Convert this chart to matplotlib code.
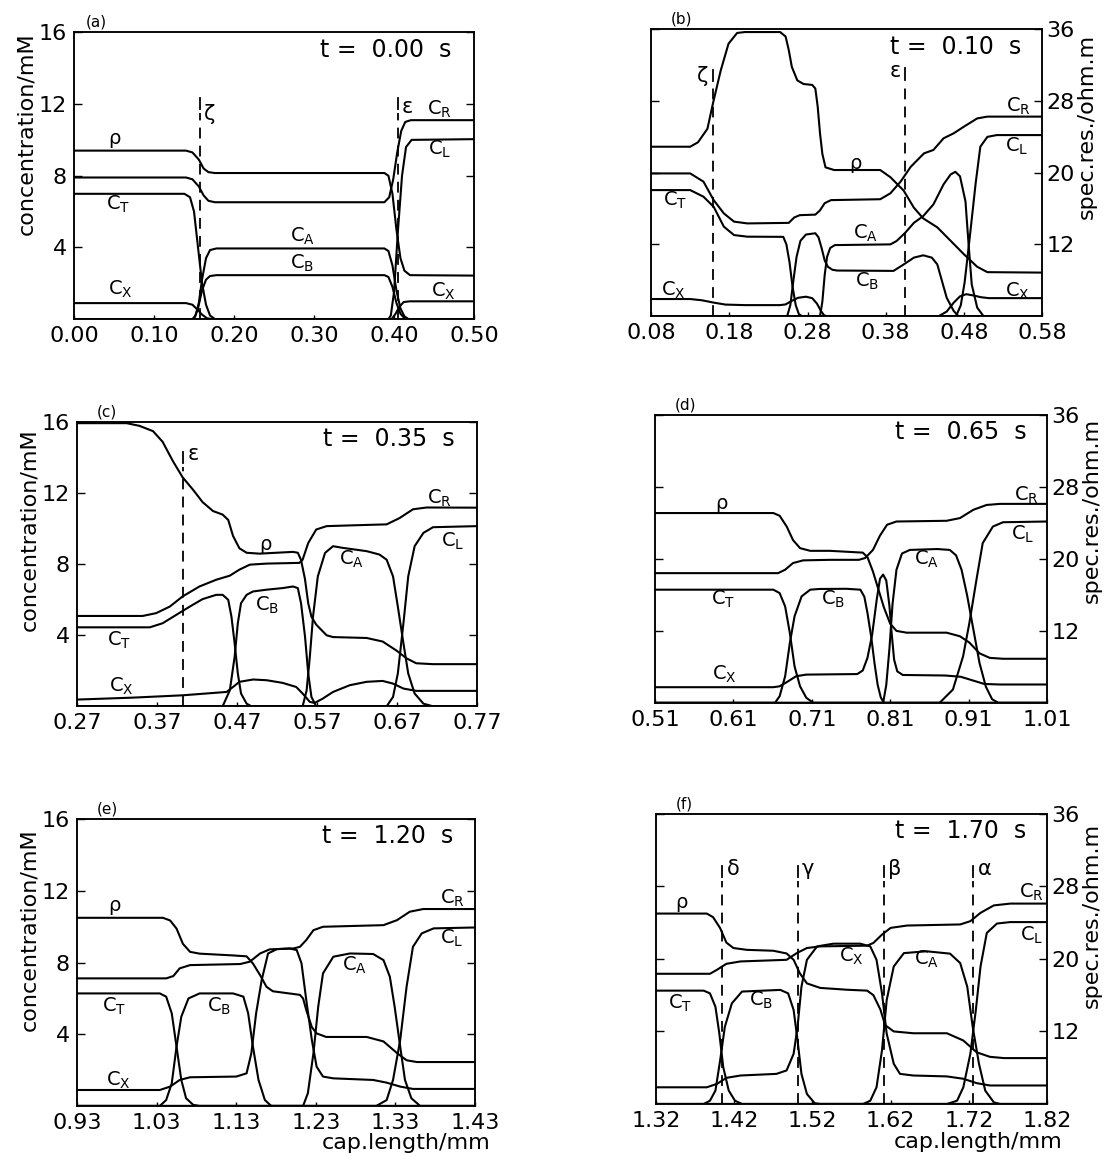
import matplotlib.pyplot as plt

plt.rcParams['font.family'] = ['DejaVu Sans']
plt.rcParams['mathtext.fontset'] = 'dejavusans'

# x tick labels of each panel (cap. length / mm)
a_xticks = [0.00, 0.10, 0.20, 0.30, 0.40, 0.50]
b_xticks = [0.08, 0.18, 0.28, 0.38, 0.48, 0.58]
c_xticks = [0.27, 0.37, 0.47, 0.57, 0.67, 0.77]
d_xticks = [0.51, 0.61, 0.71, 0.81, 0.91, 1.01]
e_xticks = [0.93, 1.03, 1.13, 1.23, 1.33, 1.43]
f_xticks = [1.32, 1.42, 1.52, 1.62, 1.72, 1.82]
times = ['0.00', '0.10', '0.35', '0.65', '1.20', '1.70']

conc_ticks = [4, 8, 12, 16]      # mM
res_ticks = [12, 20, 28, 36]     # ohm.m

# ---- (a) t = 0.00 s ; concentrations in mM, rho in ohm.m ----
a_rho = [(0.0, 22.8), (0.140, 22.8), (0.148, 22.6), (0.156, 21.8), (0.162, 20.8), (0.168, 20.4),
         (0.176, 20.3), (0.388, 20.3), (0.393, 20.0), (0.398, 18.0), (0.403, 14.0), (0.408, 10.8),
         (0.413, 9.4), (0.420, 8.9), (0.50, 8.85)]
a_cr = [(0.0, 7.9), (0.140, 7.9), (0.148, 7.8), (0.156, 7.4), (0.162, 6.9), (0.168, 6.6), (0.176, 6.52),
        (0.388, 6.52), (0.394, 6.8), (0.399, 7.8), (0.404, 9.3), (0.409, 10.5), (0.414, 11.0),
        (0.421, 11.1), (0.50, 11.1)]
a_ct = [(0.0, 6.99), (0.138, 6.99), (0.145, 6.8), (0.150, 6.0), (0.155, 4.0), (0.160, 2.0), (0.165, 0.8),
        (0.170, 0.2), (0.176, 0.0), (0.50, 0.0)]
a_cx = [(0.0, 0.89), (0.140, 0.89), (0.148, 0.8), (0.155, 0.5), (0.160, 0.25), (0.166, 0.05), (0.172, 0.0),
        (0.397, 0.0), (0.402, 0.3), (0.407, 0.7), (0.412, 0.95), (0.420, 0.99), (0.50, 0.99)]
a_ca = [(0.0, 0.0), (0.148, 0.0), (0.152, 0.2), (0.156, 0.9), (0.160, 2.2), (0.165, 3.4), (0.170, 3.85),
        (0.178, 3.94), (0.388, 3.94), (0.393, 3.8), (0.398, 3.0), (0.403, 1.6), (0.408, 0.6),
        (0.413, 0.15), (0.418, 0.0), (0.50, 0.0)]
a_cb = [(0.0, 0.0), (0.150, 0.0), (0.155, 0.6), (0.160, 1.6), (0.165, 2.2), (0.170, 2.4), (0.178, 2.45),
        (0.388, 2.45), (0.393, 2.35), (0.398, 1.8), (0.403, 0.9), (0.408, 0.3), (0.413, 0.05),
        (0.418, 0.0), (0.50, 0.0)]
a_cl = [(0.0, 0.0), (0.393, 0.0), (0.396, 0.2), (0.400, 1.5), (0.405, 5.0), (0.410, 8.0), (0.415, 9.6),
        (0.422, 10.0), (0.50, 10.04)]

# ---- (b) t = 0.10 s ----
b_rho = [(0.08, 22.9), (0.130, 22.9), (0.140, 23.4), (0.152, 24.9), (0.159, 27.7), (0.169, 31.4),
         (0.179, 34.4), (0.190, 35.6), (0.200, 35.7), (0.245, 35.7), (0.252, 35.2), (0.256, 33.7),
         (0.260, 31.8), (0.267, 30.3), (0.275, 29.9), (0.286, 29.8), (0.290, 29.4), (0.293, 27.4),
         (0.296, 24.4), (0.299, 22.1), (0.303, 20.6), (0.314, 20.3), (0.373, 20.3), (0.386, 19.5),
         (0.403, 18.0), (0.416, 16.1), (0.428, 14.9), (0.446, 13.9), (0.463, 12.4), (0.480, 10.9),
         (0.497, 9.5), (0.510, 8.9), (0.58, 8.85)]
b_cr = [(0.08, 7.96), (0.130, 7.96), (0.147, 7.5), (0.160, 6.47), (0.173, 5.73), (0.186, 5.27),
        (0.203, 5.17), (0.256, 5.2), (0.263, 5.5), (0.270, 5.63), (0.290, 5.66), (0.296, 5.9),
        (0.302, 6.3), (0.310, 6.47), (0.373, 6.52), (0.386, 6.85), (0.399, 7.5), (0.412, 8.33),
        (0.429, 9.08), (0.441, 9.27), (0.454, 9.92), (0.467, 10.2), (0.480, 10.57), (0.497, 11.03),
        (0.510, 11.13), (0.58, 11.13)]
b_ct = [(0.08, 7.03), (0.130, 7.03), (0.147, 6.66), (0.160, 6.1), (0.173, 4.99), (0.186, 4.52),
        (0.203, 4.43), (0.249, 4.42), (0.253, 4.0), (0.257, 3.0), (0.261, 1.6), (0.265, 0.6),
        (0.269, 0.1), (0.273, 0.0), (0.58, 0.0)]
b_cx = [(0.08, 0.95), (0.130, 0.95), (0.145, 0.88), (0.160, 0.75), (0.175, 0.64), (0.200, 0.61),
        (0.245, 0.61), (0.252, 0.65), (0.260, 0.85), (0.268, 1.02), (0.278, 1.08), (0.286, 1.0),
        (0.292, 0.7), (0.297, 0.3), (0.301, 0.05), (0.304, 0.0), (0.448, 0.0), (0.458, 0.25),
        (0.467, 0.75), (0.475, 1.1), (0.483, 1.22), (0.492, 1.15), (0.502, 1.05), (0.512, 1.0),
        (0.58, 1.0)]
b_cb = [(0.08, 0.0), (0.254, 0.0), (0.258, 0.6), (0.262, 2.0), (0.266, 3.3), (0.271, 4.2), (0.278, 4.55),
        (0.290, 4.62), (0.294, 4.4), (0.298, 3.8), (0.302, 3.1), (0.306, 2.75), (0.312, 2.58),
        (0.318, 2.54), (0.390, 2.52), (0.403, 2.88), (0.416, 3.26), (0.428, 3.39), (0.439, 3.26),
        (0.446, 2.88), (0.452, 1.95), (0.458, 1.02), (0.467, 0.28), (0.473, 0.0), (0.58, 0.0)]
b_ca = [(0.08, 0.0), (0.296, 0.0), (0.299, 0.8), (0.302, 2.3), (0.305, 3.3), (0.309, 3.8), (0.315, 3.96),
        (0.386, 4.0), (0.394, 4.19), (0.405, 4.65), (0.416, 5.2), (0.428, 5.58), (0.441, 6.23),
        (0.454, 7.35), (0.463, 7.9), (0.469, 8.05), (0.475, 7.8), (0.482, 6.4), (0.486, 4.0),
        (0.490, 1.77), (0.497, 0.47), (0.505, 0.0), (0.58, 0.0)]
b_cl = [(0.08, 0.0), (0.470, 0.0), (0.476, 0.6), (0.481, 1.9), (0.488, 4.6), (0.495, 7.4), (0.501, 9.45),
        (0.510, 10.0), (0.522, 10.1), (0.58, 10.1)]

# ---- (c) t = 0.35 s ----
c_rho = [(0.27, 35.9), (0.332, 35.9), (0.348, 35.6), (0.365, 35.0), (0.377, 33.8), (0.390, 31.6),
         (0.402, 29.8), (0.415, 28.4), (0.427, 27.0), (0.440, 26.0), (0.452, 25.6), (0.459, 25.0),
         (0.465, 23.2), (0.473, 21.8), (0.482, 21.3), (0.498, 21.2), (0.519, 21.3), (0.540, 21.4),
         (0.546, 21.3), (0.550, 20.5), (0.555, 18.3), (0.559, 15.6), (0.563, 14.1), (0.569, 13.2),
         (0.582, 12.0), (0.590, 11.8), (0.632, 11.7), (0.652, 11.3), (0.669, 10.3), (0.682, 9.4),
         (0.694, 8.85), (0.715, 8.75), (0.77, 8.75)]
c_cr = [(0.27, 5.09), (0.352, 5.09), (0.369, 5.25), (0.386, 5.62), (0.402, 6.19), (0.423, 6.75),
        (0.444, 7.13), (0.461, 7.36), (0.473, 7.7), (0.486, 7.98), (0.507, 8.04), (0.548, 8.08),
        (0.552, 8.26), (0.559, 9.2), (0.569, 9.96), (0.582, 10.15), (0.611, 10.19), (0.657, 10.25),
        (0.673, 10.6), (0.690, 11.1), (0.707, 11.2), (0.77, 11.19)]
c_ct = [(0.27, 4.45), (0.361, 4.45), (0.377, 4.68), (0.394, 5.15), (0.411, 5.62), (0.427, 6.04),
        (0.444, 6.28), (0.452, 6.28), (0.459, 6.0), (0.463, 5.06), (0.467, 3.55), (0.471, 1.85),
        (0.475, 0.72), (0.482, 0.15), (0.488, 0.0), (0.77, 0.0)]
c_cb = [(0.27, 0.0), (0.452, 0.0), (0.461, 0.9), (0.467, 2.79), (0.471, 4.68), (0.475, 5.81), (0.482, 6.28),
        (0.490, 6.47), (0.507, 6.57), (0.527, 6.66), (0.540, 6.75), (0.546, 6.66), (0.550, 5.81),
        (0.555, 3.92), (0.559, 1.85), (0.563, 0.53), (0.569, 0.0), (0.77, 0.0)]
c_ca = [(0.27, 0.0), (0.552, 0.0), (0.557, 0.9), (0.561, 2.79), (0.565, 5.06), (0.571, 7.32), (0.580, 8.64),
        (0.590, 9.02), (0.603, 8.92), (0.632, 8.74), (0.648, 8.55), (0.657, 8.26), (0.665, 7.32),
        (0.671, 5.62), (0.678, 3.55), (0.684, 1.85), (0.692, 0.72), (0.703, 0.15), (0.715, 0.0),
        (0.77, 0.0)]
c_cl = [(0.27, 0.0), (0.657, 0.0), (0.665, 0.53), (0.671, 1.85), (0.678, 4.68), (0.684, 7.32), (0.692, 9.02),
        (0.703, 9.77), (0.715, 10.09), (0.77, 10.15)]
c_cx = [(0.27, 0.38), (0.340, 0.49), (0.402, 0.62), (0.457, 0.81), (0.465, 1.09), (0.473, 1.38),
        (0.490, 1.51), (0.507, 1.47), (0.527, 1.32), (0.544, 1.09), (0.552, 0.72), (0.561, 0.25),
        (0.567, 0.19), (0.577, 0.43), (0.590, 0.81), (0.611, 1.19), (0.632, 1.38), (0.652, 1.43),
        (0.665, 1.28), (0.678, 1.0), (0.694, 0.87), (0.77, 0.87)]

# ---- (d) t = 0.65 s ----
d_rho = [(0.51, 25.1), (0.661, 25.1), (0.669, 24.8), (0.678, 23.6), (0.686, 22.1), (0.695, 21.2),
         (0.708, 20.9), (0.733, 20.9), (0.754, 20.8), (0.775, 20.7), (0.781, 20.2), (0.788, 18.6),
         (0.795, 16.6), (0.802, 14.6), (0.810, 12.8), (0.818, 12.0), (0.831, 11.8), (0.882, 11.8),
         (0.899, 11.4), (0.911, 10.7), (0.924, 9.5), (0.937, 9.0), (0.954, 8.9), (1.01, 8.9)]
d_cr = [(0.51, 7.21), (0.667, 7.21), (0.676, 7.4), (0.686, 7.77), (0.699, 7.92), (0.733, 7.95),
        (0.770, 7.95), (0.778, 8.05), (0.788, 8.5), (0.797, 9.3), (0.806, 9.9), (0.818, 10.08),
        (0.882, 10.12), (0.899, 10.27), (0.916, 10.73), (0.933, 11.0), (0.950, 11.06), (1.01, 11.06)]
d_ct = [(0.51, 6.29), (0.661, 6.29), (0.669, 6.1), (0.676, 5.36), (0.682, 3.88), (0.688, 2.03),
        (0.695, 0.92), (0.703, 0.28), (0.712, 0.0), (1.01, 0.0)]
d_cb = [(0.51, 0.0), (0.663, 0.0), (0.669, 0.37), (0.676, 1.48), (0.682, 3.33), (0.688, 4.81),
        (0.697, 5.92), (0.708, 6.29), (0.720, 6.33), (0.754, 6.34), (0.772, 6.29), (0.777, 5.9),
        (0.781, 5.0), (0.786, 3.6), (0.790, 2.2), (0.794, 1.0), (0.798, 0.3), (0.802, 0.0), (1.01, 0.0)]
d_cx = [(0.51, 0.87), (0.661, 0.87), (0.669, 0.92), (0.678, 1.15), (0.690, 1.48), (0.703, 1.57),
        (0.768, 1.6), (0.775, 1.8), (0.781, 2.5), (0.787, 3.8), (0.793, 5.8), (0.797, 6.9),
        (0.801, 7.13), (0.805, 6.8), (0.809, 5.4), (0.812, 3.8), (0.815, 2.4), (0.819, 1.75),
        (0.826, 1.55), (0.880, 1.52), (0.900, 1.45), (0.915, 1.25), (0.930, 1.05), (0.950, 1.02),
        (1.01, 1.02)]
d_ca = [(0.51, 0.0), (0.801, 0.0), (0.805, 1.0), (0.809, 3.0), (0.813, 5.5), (0.818, 7.4), (0.825, 8.3),
        (0.835, 8.5), (0.870, 8.55), (0.886, 8.5), (0.894, 8.2), (0.901, 7.4), (0.908, 6.0),
        (0.916, 4.1), (0.924, 2.2), (0.932, 0.9), (0.940, 0.2), (0.948, 0.0), (1.01, 0.0)]
d_cl = [(0.51, 0.0), (0.873, 0.0), (0.890, 0.74), (0.903, 2.59), (0.911, 4.44), (0.920, 6.84),
        (0.928, 8.88), (0.941, 9.8), (0.954, 10.04), (1.01, 10.08)]

# ---- (e) t = 1.20 s ----
e_rho = [(0.93, 25.0), (1.038, 25.0), (1.047, 24.7), (1.055, 23.8), (1.063, 22.1), (1.072, 21.2),
         (1.084, 21.0), (1.126, 20.8), (1.143, 20.7), (1.151, 19.9), (1.160, 18.6), (1.168, 17.3),
         (1.176, 16.8), (1.193, 16.6), (1.210, 16.4), (1.214, 16.0), (1.218, 14.7), (1.225, 12.8),
         (1.231, 12.1), (1.243, 11.7), (1.294, 11.7), (1.315, 11.2), (1.332, 9.9), (1.344, 9.1),
         (1.357, 8.9), (1.43, 8.9)]
e_cr = [(0.93, 7.12), (1.042, 7.12), (1.051, 7.25), (1.059, 7.68), (1.072, 7.86), (1.135, 7.92),
        (1.147, 8.05), (1.160, 8.51), (1.172, 8.74), (1.202, 8.79), (1.210, 8.88), (1.218, 9.26),
        (1.227, 9.81), (1.239, 10.0), (1.315, 10.09), (1.332, 10.37), (1.348, 10.84), (1.365, 10.99),
        (1.43, 10.99)]
e_ct = [(0.93, 6.28), (1.034, 6.28), (1.042, 6.1), (1.049, 5.17), (1.055, 3.31), (1.061, 1.45),
        (1.067, 0.43), (1.076, 0.06), (1.084, 0.0), (1.43, 0.0)]
e_cb = [(0.93, 0.0), (1.034, 0.0), (1.042, 0.33), (1.049, 1.26), (1.055, 3.31), (1.061, 4.98),
        (1.070, 6.0), (1.084, 6.28), (1.126, 6.28), (1.139, 6.1), (1.145, 5.17), (1.151, 3.31),
        (1.158, 1.45), (1.166, 0.33), (1.174, 0.0), (1.43, 0.0)]
e_cx = [(0.93, 0.89), (1.034, 0.89), (1.047, 1.08), (1.059, 1.45), (1.072, 1.6), (1.130, 1.64),
        (1.143, 1.82), (1.149, 2.94), (1.155, 5.17), (1.162, 7.03), (1.170, 8.51), (1.181, 8.75),
        (1.197, 8.79), (1.206, 8.7), (1.212, 7.96), (1.218, 5.91), (1.225, 3.68), (1.231, 2.19),
        (1.239, 1.64), (1.252, 1.54), (1.302, 1.45), (1.319, 1.3), (1.336, 1.08), (1.352, 0.95),
        (1.43, 0.95)]
e_ca = [(0.93, 0.0), (1.214, 0.0), (1.220, 0.71), (1.227, 2.94), (1.233, 5.54), (1.239, 7.4),
        (1.252, 8.33), (1.273, 8.51), (1.302, 8.48), (1.315, 8.14), (1.323, 7.21), (1.329, 5.54),
        (1.336, 3.31), (1.342, 1.45), (1.350, 0.43), (1.361, 0.0), (1.43, 0.0)]
e_cl = [(0.93, 0.0), (1.306, 0.0), (1.319, 0.33), (1.327, 1.45), (1.336, 3.68), (1.344, 6.65),
        (1.352, 8.88), (1.363, 9.63), (1.378, 9.91), (1.43, 9.96)]

# ---- (f) t = 1.70 s ----
f_rho = [(1.32, 25.0), (1.385, 25.0), (1.393, 24.6), (1.402, 23.4), (1.410, 21.8), (1.419, 21.2),
         (1.436, 21.0), (1.470, 20.9), (1.487, 20.6), (1.496, 19.9), (1.504, 18.4), (1.513, 17.3),
         (1.530, 16.8), (1.564, 16.6), (1.590, 16.5), (1.598, 16.0), (1.607, 14.4), (1.613, 12.7),
         (1.624, 12.0), (1.649, 11.8), (1.692, 11.8), (1.713, 11.0), (1.730, 9.7), (1.747, 9.2),
         (1.765, 9.06), (1.82, 9.06)]
f_cr = [(1.32, 7.18), (1.389, 7.18), (1.398, 7.4), (1.410, 7.73), (1.428, 7.86), (1.487, 7.95),
        (1.500, 8.32), (1.513, 8.6), (1.530, 8.69), (1.590, 8.73), (1.598, 8.88), (1.609, 9.34),
        (1.620, 9.71), (1.641, 9.84), (1.709, 9.9), (1.722, 10.08), (1.735, 10.54), (1.752, 10.95),
        (1.773, 11.05), (1.82, 11.05)]
f_ct = [(1.32, 6.25), (1.381, 6.25), (1.389, 6.1), (1.396, 5.36), (1.401, 3.88), (1.406, 2.03),
        (1.413, 0.74), (1.421, 0.18), (1.430, 0.0), (1.82, 0.0)]
f_cb = [(1.32, 0.0), (1.381, 0.0), (1.389, 0.18), (1.396, 0.74), (1.402, 2.4), (1.408, 4.25),
        (1.417, 5.55), (1.430, 6.2), (1.479, 6.29), (1.489, 6.1), (1.496, 5.18), (1.501, 3.51),
        (1.506, 1.66), (1.513, 0.55), (1.523, 0.04), (1.530, 0.0), (1.82, 0.0)]
f_cx = [(1.32, 0.92), (1.385, 0.92), (1.398, 1.11), (1.410, 1.44), (1.428, 1.57), (1.474, 1.66),
        (1.487, 1.85), (1.496, 2.77), (1.501, 4.25), (1.506, 6.47), (1.513, 7.95), (1.526, 8.69),
        (1.547, 8.84), (1.581, 8.84), (1.594, 8.69), (1.602, 7.95), (1.609, 6.1), (1.615, 3.88),
        (1.624, 2.22), (1.632, 1.66), (1.649, 1.57), (1.692, 1.52), (1.713, 1.39), (1.730, 1.15),
        (1.747, 1.02), (1.82, 1.02)]
f_ca = [(1.32, 0.0), (1.585, 0.0), (1.594, 0.18), (1.602, 0.92), (1.609, 2.96), (1.615, 5.73),
        (1.624, 7.58), (1.637, 8.32), (1.666, 8.42), (1.696, 8.29), (1.709, 7.77), (1.718, 6.47),
        (1.725, 4.25), (1.733, 2.22), (1.741, 0.74), (1.752, 0.09), (1.760, 0.0), (1.82, 0.0)]
f_cl = [(1.32, 0.0), (1.692, 0.0), (1.705, 0.18), (1.713, 0.92), (1.722, 2.77), (1.729, 5.18),
        (1.735, 7.58), (1.743, 9.43), (1.756, 9.95), (1.773, 10.03), (1.82, 10.03)]

# boundary markers: x, top of dashes, letter, letter height, side of letter
a_marks = [(0.1575, 11.5, 'ζ', 11.45, 'right'), (0.4046, 11.5, 'ε', 11.85, 'right')]
b_marks = [(0.159, 12.9, 'ζ', 13.4, 'left'), (0.405, 13.0, 'ε', 13.7, 'left')]
c_marks = [(0.4025, 13.5, 'ε', 14.2, 'right')]
d_marks = []
e_marks = []
f_marks = [(1.405, 12.3, 'δ', 12.95, 'right'), (1.501, 12.3, 'γ', 12.95, 'right'),
           (1.611, 12.3, 'β', 12.95, 'right'), (1.726, 12.3, 'α', 12.95, 'right')]

CT, CX, CA, CB = 'C$_\\mathrm{T}$', 'C$_\\mathrm{X}$', 'C$_\\mathrm{A}$', 'C$_\\mathrm{B}$'
CR, CL = 'C$_\\mathrm{R}$', 'C$_\\mathrm{L}$'
a_labels = [('ρ', 0.051, 10.1), (CT, 0.055, 6.4), (CX, 0.058, 1.65), (CA, 0.285, 4.6), (CB, 0.285, 3.1),
            (CR, 0.457, 11.7), (CL, 0.457, 9.45), (CX, 0.462, 1.55)]
b_labels = [('ρ', 0.341, 8.5), (CT, 0.111, 6.45), (CX, 0.109, 1.45), (CA, 0.354, 4.6), (CB, 0.356, 1.92),
            (CR, 0.550, 11.68), (CL, 0.548, 9.45), (CX, 0.548, 1.36)]
c_labels = [('ρ', 0.505, 9.1), (CT, 0.323, 3.7), (CX, 0.325, 1.1), (CB, 0.507, 5.7), (CA, 0.613, 8.3),
            (CR, 0.723, 11.7), (CL, 0.740, 9.3)]
d_labels = [('ρ', 0.595, 11.1), (CT, 0.597, 5.73), (CX, 0.599, 1.57), (CB, 0.737, 5.73), (CA, 0.856, 7.95),
            (CR, 0.984, 11.56), (CL, 0.979, 9.34)]
e_labels = [('ρ', 0.977, 11.2), (CT, 0.977, 5.54), (CX, 0.982, 1.45), (CB, 1.109, 5.54), (CA, 1.279, 7.86),
            (CR, 1.401, 11.58), (CL, 1.401, 9.35)]
f_labels = [('ρ', 1.353, 11.1), (CT, 1.351, 5.55), (CB, 1.455, 5.73), (CX, 1.570, 8.14), (CA, 1.666, 7.95),
            (CR, 1.800, 11.65), (CL, 1.800, 9.3)]

panels = [
    ('(a)', a_xticks, a_rho, [a_cr, a_ct, a_cx, a_ca, a_cb, a_cl], a_marks, a_labels,
     [0.0665, 0.724, 0.3594, 0.248], 'left', times[0]),
    ('(b)', b_xticks, b_rho, [b_cr, b_ct, b_cx, b_ca, b_cb, b_cl], b_marks, b_labels,
     [0.585, 0.7266, 0.3513, 0.248], 'right', times[1]),
    ('(c)', c_xticks, c_rho, [c_cr, c_ct, c_cx, c_ca, c_cb, c_cl], c_marks, c_labels,
     [0.0692, 0.389, 0.3594, 0.2457], 'left', times[2]),
    ('(d)', d_xticks, d_rho, [d_cr, d_ct, d_cx, d_ca, d_cb, d_cl], d_marks, d_labels,
     [0.5885, 0.392, 0.3522, 0.249], 'right', times[3]),
    ('(e)', e_xticks, e_rho, [e_cr, e_ct, e_cx, e_ca, e_cb, e_cl], e_marks, e_labels,
     [0.0692, 0.0433, 0.3576, 0.248], 'left', times[4]),
    ('(f)', f_xticks, f_rho, [f_cr, f_ct, f_cx, f_ca, f_cb, f_cl], f_marks, f_labels,
     [0.5894, 0.045, 0.3513, 0.251], 'right', times[5]),
]

fig = plt.figure(figsize=(11.13, 11.56), dpi=100)
LW = 1.5


def curve(ax, pts):
    ax.plot([p[0] for p in pts], [p[1] for p in pts], color='black', lw=LW,
            solid_joinstyle='round', solid_capstyle='round')


for i, (tag, xt, rho, conc, marks, labels, rect, side, t) in enumerate(panels):
    ax = fig.add_axes(rect)
    ax.set_xlim(xt[0], xt[-1])
    ax.set_ylim(0, 16)
    rax = ax.twinx()
    rax.set_ylim(4, 36)

    for pts in conc:
        curve(ax, pts)
    curve(rax, rho)

    for x, top, letter, ly, where in marks:
        ax.plot([x, x], [0, top], color='black', lw=1.3, ls=(0, (6, 4)))
        ax.plot([x, x], [top + 0.2, top + 0.85], color='black', lw=1.3)
        off = 3 if where == 'right' else -3
        ax.annotate(letter, (x, ly), xytext=(off, 0), textcoords='offset points',
                    ha='left' if where == 'right' else 'right', va='center', fontsize=15)

    for txt, x, y in labels:
        ax.text(x, y, txt, ha='center', va='center', fontsize=14)

    ax.text(0.78, 0.94, 't =  ' + t + '  s', transform=ax.transAxes, ha='center', va='center',
            fontsize=17)
    ax.text(0.03 if i == 0 else 0.05, 1.035, tag, transform=ax.transAxes, ha='left', va='center',
            fontsize=11)

    ax.set_xticks(xt)
    ax.set_xticklabels(['%.2f' % v for v in xt])
    ax.tick_params(axis='x', direction='in', length=3, width=1, labelsize=16, pad=5)
    ax.set_yticks(conc_ticks)
    rax.set_yticks(res_ticks)
    if side == 'left':
        ax.tick_params(axis='y', direction='in', length=6, width=1, labelsize=16, pad=5,
                       left=True, labelleft=True)
        rax.tick_params(axis='y', direction='in', length=6, width=1, labelright=False)
        top = [1.0, 0.98, 0.969][i // 2]
        ax.text(-0.12, top, 'concentration/mM', transform=ax.transAxes, rotation=90,
                ha='center', va='top', fontsize=16)
    else:
        ax.tick_params(axis='y', direction='in', length=6, width=1, labelleft=False)
        rax.tick_params(axis='y', direction='in', length=6, width=1, labelsize=16, pad=3,
                        labelright=True)
        top = [0.986, 0.99, 0.969][i // 2]
        ax.text(1.115, top, 'spec.res./ohm.m', transform=ax.transAxes, rotation=90,
                ha='center', va='top', fontsize=16)
    for sp in list(ax.spines.values()) + list(rax.spines.values()):
        sp.set_linewidth(1.1)
    if i >= 4:
        ax.text(1.04, -0.13, 'cap.length/mm', transform=ax.transAxes, ha='right', va='center',
                fontsize=16)

fig.savefig('out.png', dpi=100)
